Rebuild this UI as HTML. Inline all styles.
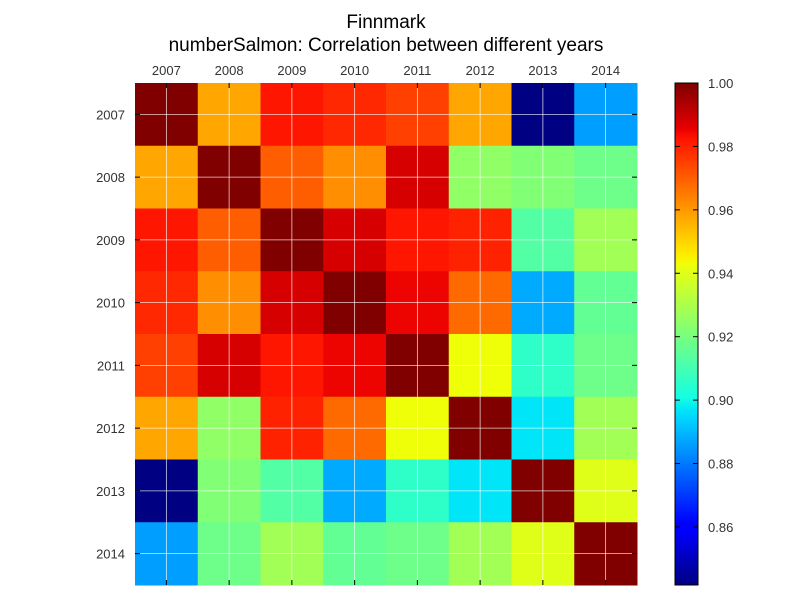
<!DOCTYPE html>
<html><head><meta charset="utf-8"><style>
body{margin:0;background:#fff;font-family:"Liberation Sans",sans-serif}
svg text{font-family:"Liberation Sans",sans-serif}
</style></head><body>
<svg id="c" width="800" height="600">
<text x="386" y="28" text-anchor="middle" font-size="19">Finnmark</text>
<text x="386" y="51" text-anchor="middle" font-size="19">numberSalmon: Correlation between different years</text>
</svg>
<script>
const years=["2007","2008","2009","2010","2011","2012","2013","2014"];
const values=[
[1,0.958,0.982,0.979,0.975,0.958,0.842,0.886],
[0.958,1,0.970,0.962,0.988,0.925,0.922,0.918],
[0.982,0.970,1,0.988,0.982,0.980,0.913,0.928],
[0.979,0.962,0.988,1,0.985,0.968,0.888,0.916],
[0.975,0.988,0.982,0.985,1,0.943,0.906,0.918],
[0.958,0.925,0.980,0.968,0.943,1,0.897,0.928],
[0.842,0.922,0.913,0.888,0.906,0.897,1,0.940],
[0.886,0.918,0.928,0.916,0.918,0.928,0.940,1]];
const cbTicks=[0.86,0.88,0.90,0.92,0.94,0.96,0.98,1.00];
const vmin=0.8417,vmax=1.0;
const NS="http://www.w3.org/2000/svg";
const svg=document.getElementById('c');
function mk(t,a,p){const e=document.createElementNS(NS,t);for(const k in a)e.setAttribute(k,a[k]);(p||svg).appendChild(e);return e;}
function seg(x,pts){for(let i=0;i<pts.length-1;i++){const[a,va]=pts[i],[b,vb]=pts[i+1];if(x>=a&&x<=b)return va+(vb-va)*(x-a)/(b-a);}return pts[pts.length-1][1];}
function jet(t){t=Math.max(0,Math.min(1,t));
const r=seg(t,[[0,0],[0.35,0],[0.66,1],[0.89,1],[1,0.5]]);
const g=seg(t,[[0,0],[0.125,0],[0.375,1],[0.64,1],[0.91,0],[1,0]]);
const b=seg(t,[[0,0.5],[0.11,1],[0.34,1],[0.65,0],[1,0]]);
return `rgb(${Math.round(r*255)},${Math.round(g*255)},${Math.round(b*255)})`;}
const X0=135,Y0=83,S=502,n=years.length,cw=S/n;
const xs=i=>X0+i*cw, ys=i=>Y0+i*cw;
years.forEach((ry,i)=>years.forEach((cyr,j)=>{
const r=mk('rect',{x:xs(j),y:ys(i),width:cw+0.5,height:cw+0.5,fill:jet((values[i][j]-vmin)/(vmax-vmin))});


}));
years.forEach((y,i)=>{
const c=xs(i)+cw/2, d=ys(i)+cw/2;
mk('line',{x1:c,y1:Y0,x2:c,y2:Y0+S,stroke:'#fff','stroke-width':0.8,'stroke-opacity':0.8});
mk('line',{x1:X0,y1:d,x2:X0+S,y2:d,stroke:'#fff','stroke-width':0.8,'stroke-opacity':0.8});
mk('line',{x1:c,y1:Y0,x2:c,y2:Y0+5,stroke:'#000'});
mk('line',{x1:c,y1:Y0+S,x2:c,y2:Y0+S-5,stroke:'#000'});
mk('line',{x1:X0,y1:d,x2:X0+5,y2:d,stroke:'#000'});
mk('line',{x1:X0+S,y1:d,x2:X0+S-5,y2:d,stroke:'#000'});
const tx=mk('text',{x:c,y:Y0-8,'text-anchor':'middle','font-size':13,fill:'#333'});tx.textContent=y;


const ty=mk('text',{x:X0-10,y:d+5,'text-anchor':'end','font-size':13,fill:'#333'});ty.textContent=y;


});
const CX=675,CW=23,CY=83,CH=502;
for(let k=0;k<CH;k++){const v=vmax-(k/CH)*(vmax-vmin);
mk('rect',{x:CX,y:CY+k,width:CW,height:1.5,fill:jet((v-vmin)/(vmax-vmin))});}
const cb=mk('rect',{x:CX,y:CY,width:CW,height:CH,fill:'none',stroke:'#000'});


const cby=v=>CY+(vmax-v)/(vmax-vmin)*CH;
cbTicks.forEach(v=>{const y=cby(v);
mk('line',{x1:CX+CW-5,y1:y,x2:CX+CW,y2:y,stroke:'#000'});
mk('line',{x1:CX,y1:y,x2:CX+5,y2:y,stroke:'#000'});
const t=mk('text',{x:CX+CW+10,y:y+5,'font-size':13,fill:'#333'});t.textContent=v.toFixed(2);


});
</script>
</body></html>
